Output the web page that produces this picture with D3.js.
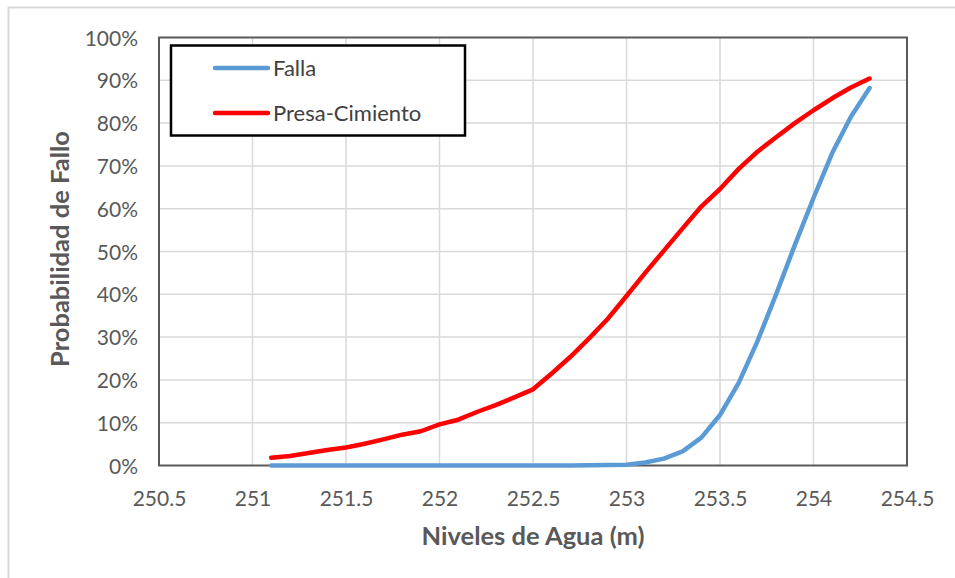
<!DOCTYPE html>
<html>
<head>
<meta charset="utf-8">
<script src="https://cdn.jsdelivr.net/npm/d3@7"></script>
<style>
  html, body { margin: 0; padding: 0; background: #fff; }
  svg { display: block; }
  text { font-family: Lato, "Open Sans", sans-serif; }
</style>
</head>
<body>
<svg id="chart" width="955" height="578"></svg>
<script>
// Water level (m) for each computed point
const niveles = [251.1, 251.2, 251.3, 251.4, 251.5, 251.6, 251.7, 251.8, 251.9, 252.0,
                 252.1, 252.2, 252.3, 252.4, 252.5, 252.6, 252.7, 252.8, 252.9, 253.0,
                 253.1, 253.2, 253.3, 253.4, 253.5, 253.6, 253.7, 253.8, 253.9, 254.0,
                 254.1, 254.2, 254.3];
// Failure probability (%) - "Falla"
const falla = [0, 0, 0, 0, 0, 0, 0, 0, 0, 0,
               0, 0, 0, 0, 0, 0, 0, 0.05, 0.1, 0.2,
               0.7, 1.6, 3.3, 6.5, 11.8, 19.3, 29, 40, 51.5, 62.5,
               73, 81.5, 88.2];
// Failure probability (%) - "Presa-Cimiento"
const presaCimiento = [1.8, 2.2, 2.9, 3.6, 4.2, 5.1, 6.1, 7.2, 8.0, 9.6,
                       10.7, 12.5, 14.1, 15.9, 17.8, 21.5, 25.4, 29.7, 34.3, 39.6,
                       45.0, 50.2, 55.4, 60.5, 64.6, 69.3, 73.3, 76.7, 80.0, 83.0,
                       85.8, 88.3, 90.4];
const xTicks = [250.5, 251, 251.5, 252, 252.5, 253, 253.5, 254, 254.5];
const yTicks = [0, 10, 20, 30, 40, 50, 60, 70, 80, 90, 100];
const seriesNames = ["Falla", "Presa-Cimiento"];
const seriesColors = ["#5B9BD5", "#FF0000"];

const svg = d3.select("#chart");
const W = 955, H = 578;
const plot = { left: 159, top: 37.5, right: 907, bottom: 465.5 };

// Outer chart frame
svg.append("path")
  .attr("d", `M8.5,${H + 5} L8.5,7.5 L${W + 5},7.5`)
  .attr("fill", "none").attr("stroke", "#D9D9D9").attr("stroke-width", 2);

const x = d3.scaleLinear().domain([250.5, 254.5]).range([plot.left, plot.right]);
const y = d3.scaleLinear().domain([0, 100]).range([plot.bottom, plot.top]);

// Gridlines
const grid = svg.append("g");
grid.selectAll("line.v").data(xTicks.slice(1, -1)).join("line")
  .attr("x1", d => x(d)).attr("x2", d => x(d))
  .attr("y1", plot.top).attr("y2", plot.bottom)
  .attr("stroke", "#D9D9D9").attr("stroke-width", 1.5);
grid.selectAll("line.h").data(yTicks.slice(1, -1)).join("line")
  .attr("y1", d => y(d)).attr("y2", d => y(d))
  .attr("x1", plot.left).attr("x2", plot.right)
  .attr("stroke", "#D9D9D9").attr("stroke-width", 1.5);

// Axes (labels only, lines drawn by the plot border)
const xAxis = d3.axisBottom(x).tickValues(xTicks).tickSize(0).tickPadding(0)
  .tickFormat(d => d3.format("")(d));
svg.append("g").attr("transform", `translate(0,${plot.bottom})`).call(xAxis)
  .call(g => g.select(".domain").remove())
  .call(g => g.selectAll("text")
    .attr("dy", null).attr("y", 40)
    .attr("fill", "#595959").attr("font-size", 21)
    .attr("font-family", "Lato, 'Open Sans', sans-serif"));

const yAxis = d3.axisLeft(y).tickValues(yTicks).tickSize(0).tickPadding(0)
  .tickFormat(d => d + "%");
svg.append("g").attr("transform", `translate(${plot.left - 21},0)`).call(yAxis)
  .call(g => g.select(".domain").remove())
  .call(g => g.selectAll("text")
    .attr("dy", "0.36em")
    .attr("fill", "#595959").attr("font-size", 21)
    .attr("font-family", "Lato, 'Open Sans', sans-serif"));

// Plot area border
svg.append("rect")
  .attr("x", plot.left).attr("y", plot.top)
  .attr("width", plot.right - plot.left).attr("height", plot.bottom - plot.top)
  .attr("fill", "none").attr("stroke", "#595959").attr("stroke-width", 2);

// Series lines
const line = d3.line().x(d => x(d[0])).y(d => y(d[1]));
const seriesData = [falla, presaCimiento];
seriesData.forEach((vals, i) => {
  svg.append("path")
    .datum(niveles.map((n, j) => [n, vals[j]]))
    .attr("d", line)
    .attr("fill", "none")
    .attr("stroke", seriesColors[i])
    .attr("stroke-width", 4.5)
    .attr("stroke-linejoin", "round")
    .attr("stroke-linecap", "round");
});

// Axis titles
svg.append("text")
  .attr("x", 533).attr("y", 545)
  .attr("text-anchor", "middle")
  .attr("font-size", 25.5).attr("font-weight", "bold")
  .attr("fill", "#595959")
  .text("Niveles de Agua (m)");
svg.append("text")
  .attr("transform", "translate(69,249) rotate(-90)")
  .attr("text-anchor", "middle")
  .attr("font-size", 25.5).attr("font-weight", "bold")
  .attr("fill", "#595959")
  .text("Probabilidad de Fallo");

// Legend
const legend = svg.append("g");
legend.append("rect")
  .attr("x", 171).attr("y", 45.5).attr("width", 294).attr("height", 90)
  .attr("fill", "#fff").attr("stroke", "#000").attr("stroke-width", 2.5);
seriesNames.forEach((name, i) => {
  const ly = 68 + i * 45;
  legend.append("line")
    .attr("x1", 215).attr("x2", 268).attr("y1", ly).attr("y2", ly)
    .attr("stroke", seriesColors[i]).attr("stroke-width", 4.5)
    .attr("stroke-linecap", "round");
  legend.append("text")
    .attr("x", 273).attr("y", ly).attr("dy", "0.36em")
    .attr("font-size", 22).attr("fill", "#404040")
    .text(name);
});
</script>
</body>
</html>
